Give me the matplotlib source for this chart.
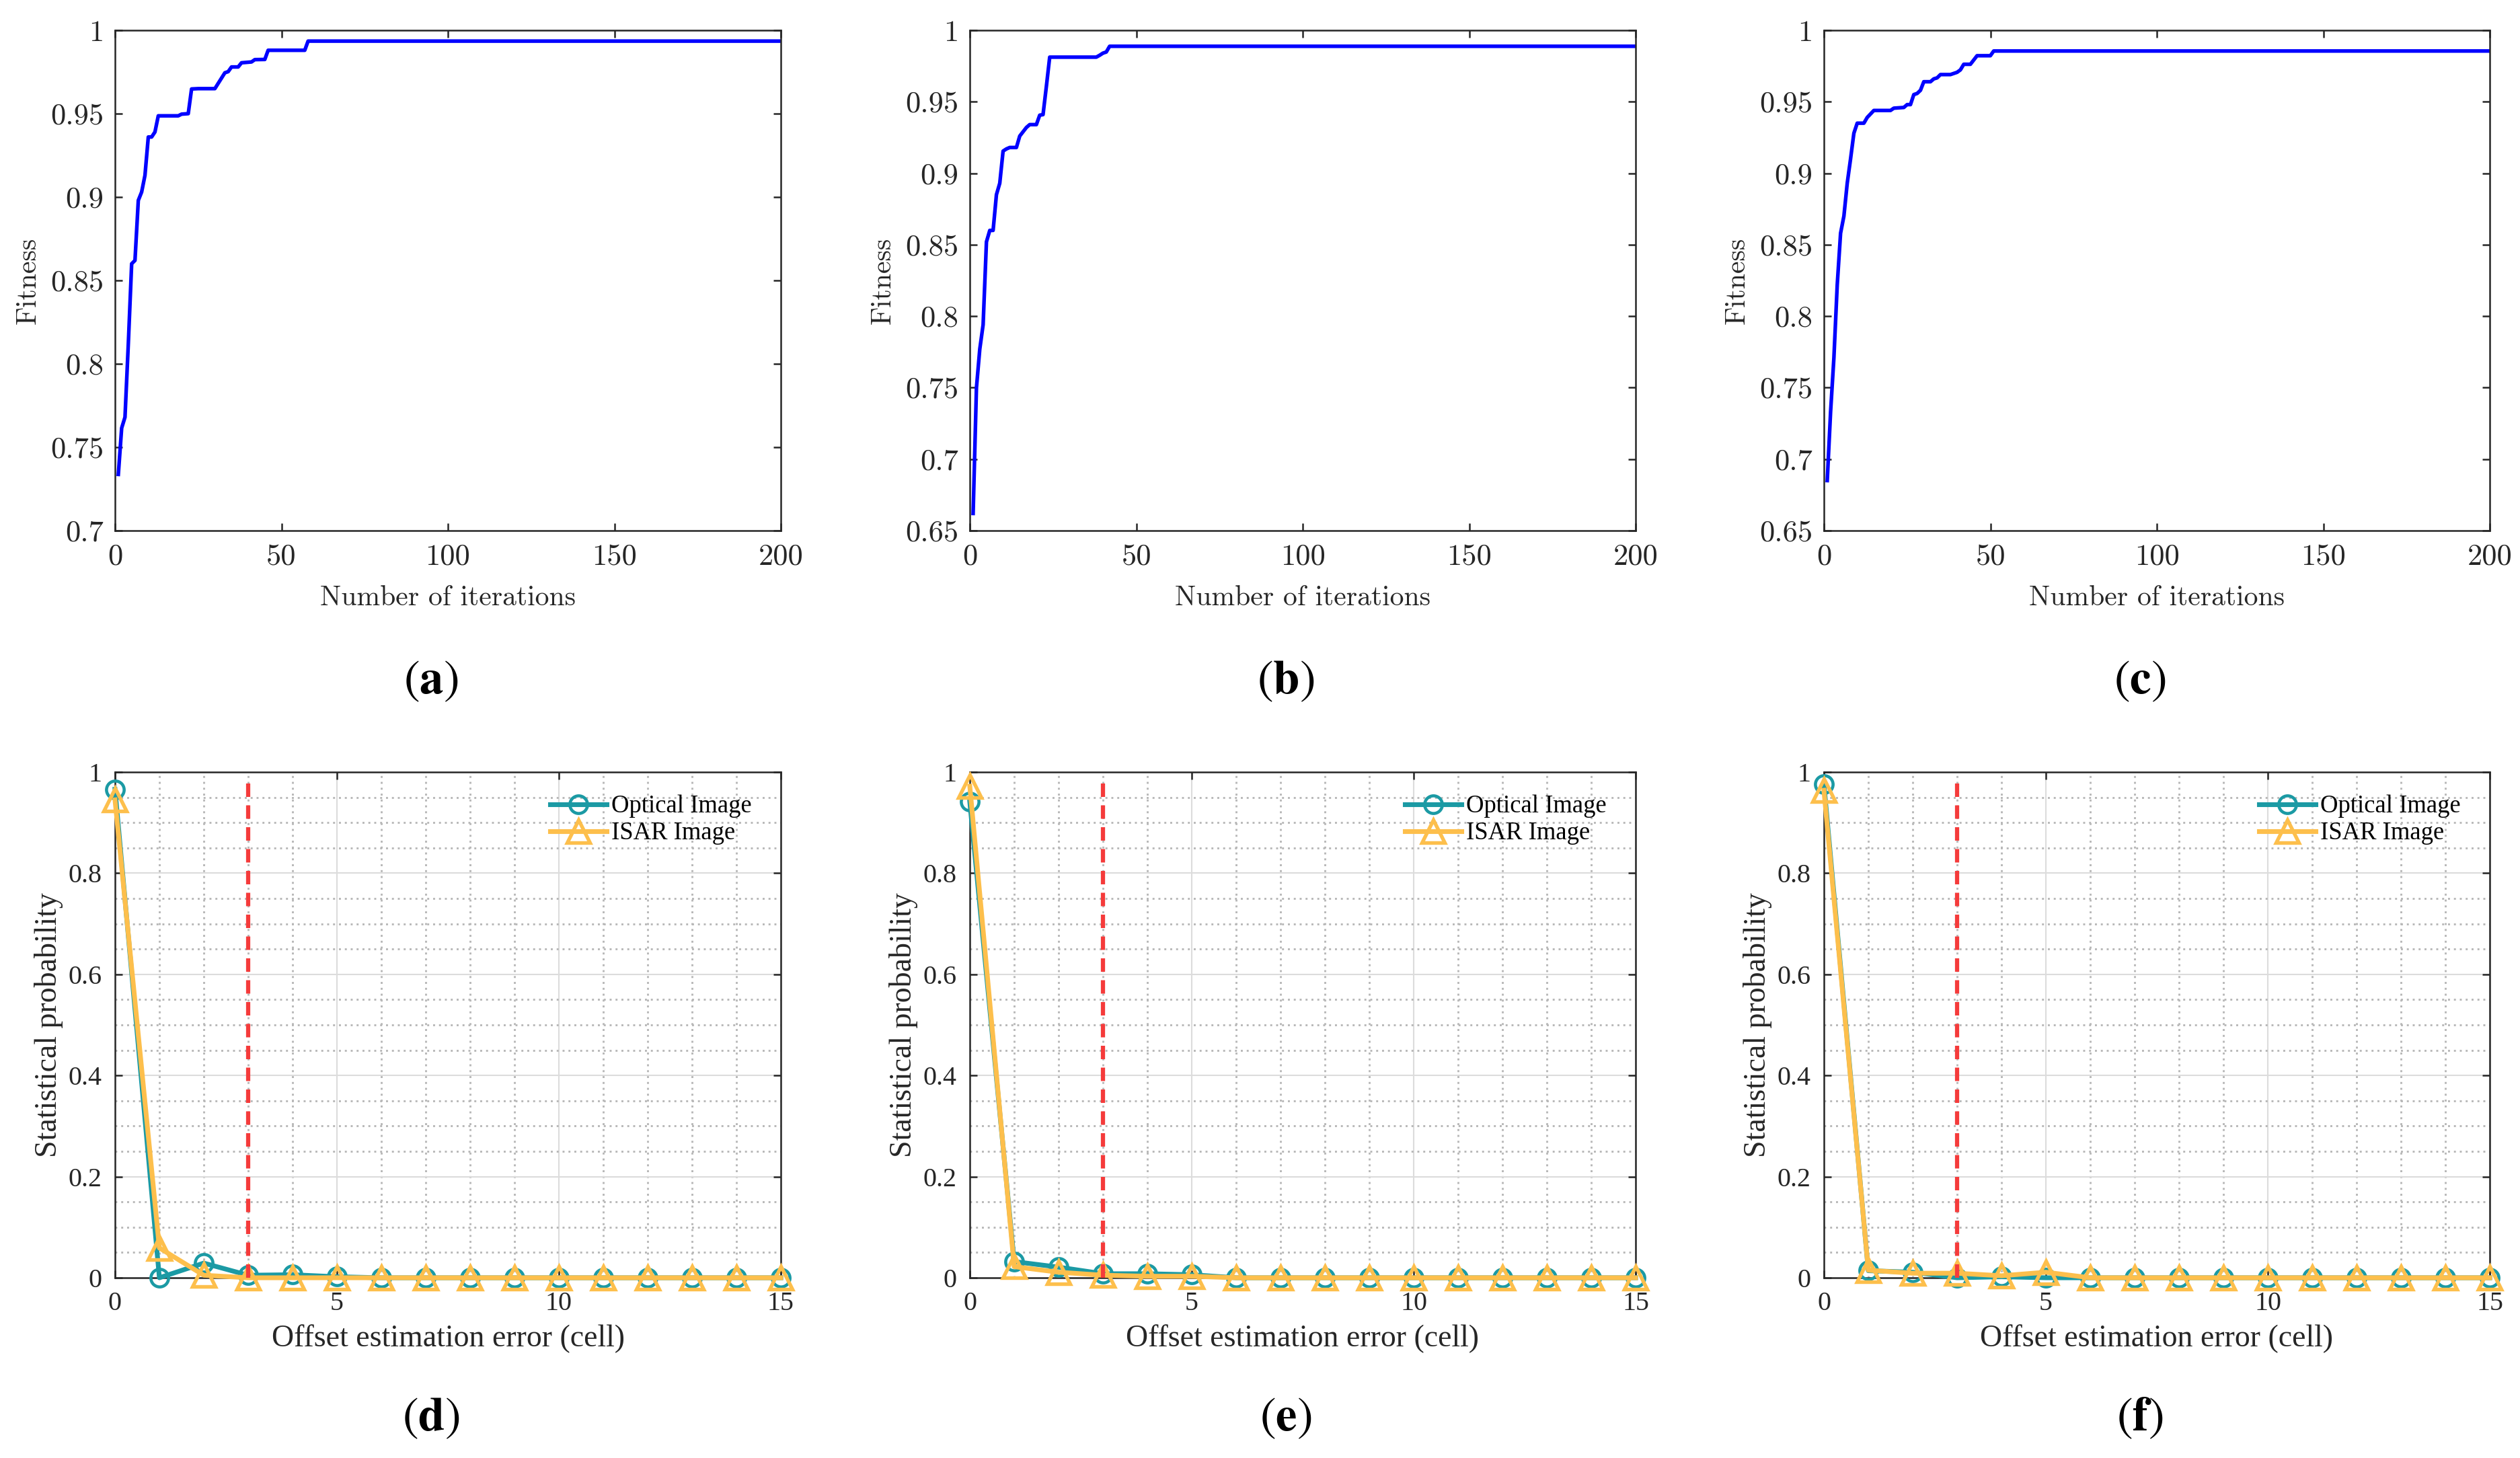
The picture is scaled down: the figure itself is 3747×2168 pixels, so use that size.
import numpy as np
import matplotlib
matplotlib.use('Agg')
import matplotlib.pyplot as plt
from matplotlib.ticker import MultipleLocator

# ---- fitness curves (top row) ----
iters_a = [1, 2, 3, 4, 5, 6, 7, 8, 9, 10, 11, 12, 13, 19, 20, 22, 23, 25, 30, 33, 34, 35, 37, 38, 41, 42, 45, 46, 57, 58, 200]
fit_a = [0.7337, 0.7615, 0.768, 0.812, 0.860, 0.862, 0.898, 0.903, 0.913, 0.936, 0.936, 0.939, 0.9487, 0.9487, 0.9497,
         0.950, 0.9648, 0.965, 0.965, 0.9745, 0.9752, 0.978, 0.978, 0.9805, 0.981, 0.9824, 0.9825, 0.988, 0.988, 0.9935, 0.9935]

iters_b = [1, 2, 3, 4, 5, 6, 7, 8, 9, 10, 11, 12, 14, 15, 16, 17, 18, 20, 21, 22, 23, 24, 38, 39, 40, 41, 42, 200]
fit_b = [0.662, 0.750, 0.777, 0.794, 0.852, 0.860, 0.860, 0.885, 0.893, 0.9155, 0.917, 0.918, 0.918, 0.926, 0.929,
         0.932, 0.934, 0.934, 0.9406, 0.941, 0.9607, 0.9812, 0.9812, 0.9825, 0.984, 0.9848, 0.9888, 0.9888]

iters_c = [1, 2, 3, 4, 5, 6, 7, 8, 9, 10, 12, 13, 15, 20, 21, 24, 25, 26, 27, 28, 29, 30, 32, 33, 34, 35, 38, 40, 41,
           42, 44, 46, 50, 51, 200]
fit_c = [0.685, 0.733, 0.771, 0.822, 0.858, 0.870, 0.893, 0.910, 0.928, 0.935, 0.935, 0.939, 0.9439, 0.9439, 0.9455,
         0.946, 0.948, 0.948, 0.955, 0.9558, 0.958, 0.964, 0.964, 0.966, 0.9667, 0.969, 0.969, 0.9706, 0.9723, 0.9762,
         0.9762, 0.9822, 0.9822, 0.9855, 0.9855]

# ---- offset error statistics (bottom row) ----
offset = list(range(16))
optical_d = [0.966, 0.0, 0.029, 0.005, 0.006, 0.002, 0, 0, 0, 0, 0, 0, 0, 0, 0, 0]
isar_d = [0.945, 0.059, 0.005, 0.0, 0, 0, 0, 0, 0, 0, 0, 0, 0, 0, 0, 0]
optical_e = [0.941, 0.032, 0.021, 0.008, 0.008, 0.006, 0, 0, 0, 0, 0, 0, 0, 0, 0, 0]
isar_e = [0.972, 0.022, 0.011, 0.005, 0.003, 0.003, 0, 0, 0, 0, 0, 0, 0, 0, 0, 0]
optical_f = [0.976, 0.014, 0.011, 0.0, 0.002, 0.0, 0, 0, 0, 0, 0, 0, 0, 0, 0, 0]
isar_f = [0.964, 0.015, 0.009, 0.009, 0.004, 0.011, 0, 0, 0, 0, 0, 0, 0, 0, 0, 0]
threshold = 3

top_ylims = [(0.7, 1.0), (0.65, 1.0), (0.65, 1.0)]
top_yticks = [[0.7, 0.75, 0.8, 0.85, 0.9, 0.95, 1.0],
              [0.65, 0.7, 0.75, 0.8, 0.85, 0.9, 0.95, 1.0],
              [0.65, 0.7, 0.75, 0.8, 0.85, 0.9, 0.95, 1.0]]
top_ylabels = [['0.7', '0.75', '0.8', '0.85', '0.9', '0.95', '1'],
               ['0.65', '0.7', '0.75', '0.8', '0.85', '0.9', '0.95', '1'],
               ['0.65', '0.7', '0.75', '0.8', '0.85', '0.9', '0.95', '1']]
panel_letters = ['a', 'b', 'c', 'd', 'e', 'f']

W, H = 3747, 2168
fig = plt.figure(figsize=(W / 300, H / 300), dpi=300)

col_left = [171, 1442, 2712]
ax_w = 990
spine_col = '#262626'
teal = '#1b9aa4'
gold = '#fdbf4c'

CM = 'cmr10'
TIMES = 'Liberation Serif'

top_data = [(iters_a, fit_a), (iters_b, fit_b), (iters_c, fit_c)]
bot_data = [(optical_d, isar_d), (optical_e, isar_e), (optical_f, isar_f)]


def style_box(ax):
    for s in ax.spines.values():
        s.set_color(spine_col)
        s.set_linewidth(0.6)
    ax.tick_params(which='major', direction='in', length=2.6, width=0.6, color=spine_col,
                   top=True, right=True)


# top row
for i, (xs, ys) in enumerate(top_data):
    ax = fig.add_axes([col_left[i] / W, 1 - 789 / H, ax_w / W, 744 / H])
    ax.plot(xs, ys, color='#0000ff', lw=1.3)
    ax.set_xlim(0, 200)
    ax.set_ylim(*top_ylims[i])
    ax.set_xticks([0, 50, 100, 150, 200])
    ax.set_xticklabels(['0', '50', '100', '150', '200'], fontfamily=CM, fontsize=10.7, color=spine_col)
    ax.set_yticks(top_yticks[i])
    ax.set_yticklabels(top_ylabels[i], fontfamily=CM, fontsize=10.7, color=spine_col)
    style_box(ax)
    ax.tick_params(axis='x', pad=4.6)
    ax.tick_params(axis='y', pad=4.0)
    ax.set_xlabel('Number of iterations', fontfamily=CM, fontsize=10, color=spine_col)
    ax.xaxis.set_label_coords(0.5, -(871 - 789) / 744)
    ax.set_ylabel('Fitness', fontfamily=CM, fontsize=10, color=spine_col)
    ax.yaxis.set_label_coords(-110 / ax_w, 0.5)
    fig.text((col_left[i] + ax_w / 2 - 25) / W, 1 - 1012 / H, r'$(\mathbf{%s})$' % panel_letters[i],
             math_fontfamily='stix', fontsize=17, ha='center', va='center')

# bottom row
for i, (opt, isar) in enumerate(bot_data):
    ax = fig.add_axes([col_left[i] / W, 1 - 1900 / H, ax_w / W, 752 / H])
    ax.set_axisbelow(True)
    ax.grid(True, which='major', color='#dcdcdc', lw=0.5, ls='-')
    ax.xaxis.set_minor_locator(MultipleLocator(1))
    ax.yaxis.set_minor_locator(MultipleLocator(0.05))
    ax.grid(True, which='minor', color='#b8b8b8', lw=0.7, ls=(0, (1, 2)))
    ax.tick_params(which='minor', length=0)
    ax.plot(offset, opt, color=teal, lw=1.7, marker='o', ms=6.3, mfc='none', mew=1.1,
            label='Optical Image', clip_on=False, zorder=3)
    ax.plot(offset, isar, color=gold, lw=1.7, marker='^', ms=8, mfc='none', mew=1.3,
            label='ISAR Image', clip_on=False, zorder=4)
    ax.plot([threshold, threshold], [0, 0.982], color='#f53b3b', lw=1.5, ls=(0, (3.2, 2.0)), zorder=5)
    ax.set_xlim(0, 15)
    ax.set_ylim(0, 1)
    ax.set_xticks([0, 5, 10, 15])
    ax.set_xticklabels(['0', '5', '10', '15'], fontfamily=TIMES, fontsize=9.6, color=spine_col)
    ax.set_yticks([0, 0.2, 0.4, 0.6, 0.8, 1.0])
    ax.set_yticklabels(['0', '0.2', '0.4', '0.6', '0.8', '1'], fontfamily=TIMES, fontsize=9.6, color=spine_col)
    style_box(ax)
    ax.tick_params(axis='x', pad=4.7)
    ax.tick_params(axis='y', pad=4.6)
    ax.set_xlabel('Offset estimation error (cell)', fontfamily=TIMES, fontsize=11, color=spine_col)
    ax.xaxis.set_label_coords(0.5, -(1969 - 1900) / 752)
    ax.set_ylabel('Statistical probability', fontfamily=TIMES, fontsize=11, color=spine_col)
    ax.yaxis.set_label_coords(-77 / ax_w, 0.5)
    leg = ax.legend(loc='upper right', bbox_to_anchor=(0.9566, 0.955), frameon=False,
                    prop={'family': TIMES, 'size': 8.8}, handlelength=2.3, handletextpad=0.2,
                    labelspacing=0.15, borderaxespad=0.0, borderpad=0.0)
    for t in leg.get_texts():
        t.set_color('black')
    fig.text((col_left[i] + ax_w / 2 - 25) / W, 1 - 2108 / H, r'$(\mathbf{%s})$' % panel_letters[i + 3],
             math_fontfamily='stix', fontsize=17, ha='center', va='center')

fig.savefig('out.png', dpi=300)
